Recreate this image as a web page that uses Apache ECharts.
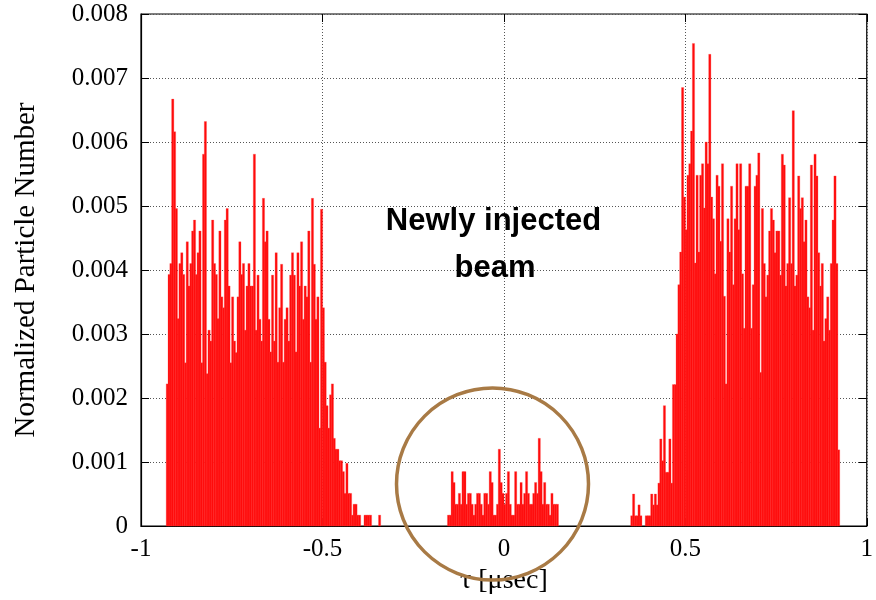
<!DOCTYPE html>
<html>
<head>
<meta charset="utf-8">
<script src="https://cdn.jsdelivr.net/npm/echarts@6/dist/echarts.min.js"></script>
<style>html,body{margin:0;padding:0;background:#fff}#c{width:876px;height:600px}</style>
</head>
<body>
<div id="c"></div>
<script>
// Histogram bin width (tau, usec) and value unit
var BIN = 0.005;
var UNIT = 0.001; // values below are in units of 1e-3

// Left bunch (starts at tau = -0.930)
var leftStart = -0.930;
var leftVals = [
 2.22,3.93,4.10,6.67,6.16,4.96,3.24,4.10,4.27,3.93,2.55,4.44,3.75,4.10,4.61,4.78,3.93,4.27,4.61,2.55,
 5.81,6.32,2.38,3.06,2.89,4.78,4.10,3.93,3.24,4.61,3.58,3.41,4.78,4.96,3.75,2.55,3.58,2.89,2.71,3.58,
 4.44,3.93,4.10,3.06,3.75,4.10,
 3.75,3.75,5.81,3.06,3.92,3.23,2.89,5.12,4.44,4.61,3.23,2.72,3.92,2.89,4.27,2.56,3.41,4.09,2.56,3.23,
 3.41,2.89,3.92,4.27,3.92,2.72,4.27,3.75,4.44,3.23,3.75,3.58,4.61,2.56,5.12,4.09,3.23,3.58,1.53,4.95,
 3.41,2.56,1.88,1.53,
 2.05,2.22,1.37,1.20,1.20,1.02,1.02,0.85,0.51,0.98,0.51,0.51,0.17,0.34,0.34,0.17,0.17,0,0,0.17,
 0.17,0.17,0.17,0,0,0,0,0.17
];

// Newly injected beam (starts at tau = -0.155)
var midStart = -0.155;
var midVals = [
 0.17,0.17,0.85,0.68,0.34,0.34,0.51,0.34,0.85,0.85,0.34,0.51,0.51,0.34,0.17,0.34,0.51,0.51,0.34,0.17,
 0.51,0.51,0.34,0.85,0.68,0.17,0.17,0.34,1.20,0.68,0.51,0.34,0.51,0.85,0.34,0.17,0.17,0.85,0.34,0.34,
 0.68,0.34,0.51,0.85,0.51,0.34,0.34,0.51,0.68,0.51,1.37,0.85,0.34,0.68,0.34,0.34,0.17,0.51,0.34,0.34,
 0.34
];

// Right bunch (starts at tau = 0.350)
var rightStart = 0.350;
var rightVals = [
 0.16,0.50,0.16,0.16,0.33,0.16,0,0,0.16,0.16,0.16,0.50,0.33,0.50,0.33,0.67,1.36,1.02,1.88,0.84,
 0.84,1.36,0.67,2.21,2.21,3.00,
 3.77,4.28,6.85,5.14,4.63,5.48,5.66,6.17,7.54,4.11,5.48,4.28,5.48,5.66,4.97,6.00,5.66,7.37,5.14,4.80,
 3.94,5.48,5.31,4.45,5.66,3.59,2.22,4.80,4.28,5.31,3.77,4.80,5.66,4.63,5.66,3.94,3.09,5.31,5.31,5.66,
 3.09,3.77,5.31,5.48,5.83,2.40,
 4.96,4.10,3.58,3.92,4.61,4.96,4.78,4.27,4.61,4.61,3.92,5.81,5.64,3.75,4.10,5.13,4.10,6.49,3.75,3.92,
 5.47,4.96,5.13,4.44,4.78,3.58,3.41,5.64,3.06,5.81,5.47,4.27,3.75,4.10,2.89,3.24,3.58,3.06,4.10,4.78,
 5.47,4.10,1.19
];

var xTicks = [-1, -0.5, 0, 0.5, 1];
var yTicks = [0, 0.001, 0.002, 0.003, 0.004, 0.005, 0.006, 0.007, 0.008];
var xTitle = 'τ [μsec]';
var yTitle = 'Normalized Particle Number';
var noteLines = ['Newly injected', 'beam'];

function bins(start, vals) {
  var out = [];
  for (var i = 0; i < vals.length; i++) {
    if (vals[i] > 0) {
      var x0 = +(start + i * BIN).toFixed(4);
      out.push([x0, +(x0 + BIN).toFixed(4), vals[i] * UNIT]);
    }
  }
  return out;
}
var data = bins(leftStart, leftVals).concat(bins(midStart, midVals), bins(rightStart, rightVals));

var serif = 'Liberation Serif, Times New Roman, serif';
var chart = echarts.init(document.getElementById('c'), null, {renderer: 'canvas'});

var gridLine = {show: true, lineStyle: {color: '#555', width: 1, type: [1, 2]}};
var tick = {show: true, inside: true, length: 8, lineStyle: {color: '#000', width: 1}};

chart.setOption({
  animation: false,
  backgroundColor: '#fff',
  grid: {left: 141, right: 7, top: 14, bottom: 74, show: true, borderColor: '#000', borderWidth: 1.2, backgroundColor: 'transparent'},
  xAxis: [{
    type: 'value', min: xTicks[0], max: xTicks[xTicks.length - 1], interval: 0.5,
    axisLine: {show: true, onZero: false, lineStyle: {color: '#000', width: 1.2}},
    axisTick: tick, splitLine: gridLine,
    axisLabel: {color: '#000', fontFamily: serif, fontSize: 25, margin: 11,
      formatter: function (v) { return String(v); }},
    name: xTitle, nameLocation: 'middle', nameGap: 38,
    nameTextStyle: {color: '#000', fontFamily: serif, fontSize: 28}
  }, {
    type: 'value', position: 'top', min: xTicks[0], max: xTicks[xTicks.length - 1], interval: 0.5,
    axisLine: {show: false, onZero: false}, axisTick: tick, splitLine: {show: false}, axisLabel: {show: false}
  }],
  yAxis: [{
    type: 'value', min: yTicks[0], max: yTicks[yTicks.length - 1], interval: 0.001,
    axisLine: {show: true, onZero: false, lineStyle: {color: '#000', width: 1.2}},
    axisTick: tick, splitLine: gridLine,
    axisLabel: {color: '#000', fontFamily: serif, fontSize: 25, margin: 13,
      formatter: function (v) { return v === 0 ? '0' : v.toFixed(3); }},
    name: yTitle, nameLocation: 'middle', nameGap: 100,
    nameTextStyle: {color: '#000', fontFamily: serif, fontSize: 29}
  }, {
    type: 'value', position: 'right', min: yTicks[0], max: yTicks[yTicks.length - 1], interval: 0.001,
    axisLine: {show: false, onZero: false}, axisTick: tick, splitLine: {show: false}, axisLabel: {show: false}
  }],
  series: [{
    type: 'custom',
    xAxisIndex: 0, yAxisIndex: 0,
    data: data,
    encode: {x: [0, 1], y: 2},
    renderItem: function (params, api) {
      var p0 = api.coord([api.value(0), api.value(2)]);
      var p1 = api.coord([api.value(1), 0]);
      return {
        type: 'rect',
        shape: {x: p0[0] - 0.2, y: p0[1], width: p1[0] - p0[0] + 0.4, height: p1[1] - p0[1]},
        style: {fill: '#ff0a0a', stroke: '#ff4848', lineWidth: 0.3}
      };
    }
  }],
  graphic: [
    {type: 'text', z: 100, style: {x: 493.5, y: 221, text: noteLines[0], textAlign: 'center', textVerticalAlign: 'middle',
      fontFamily: 'Liberation Sans, Arial, sans-serif', fontWeight: 'bold', fontSize: 31, fill: '#000'}},
    {type: 'text', z: 100, style: {x: 495, y: 268, text: noteLines[1], textAlign: 'center', textVerticalAlign: 'middle',
      fontFamily: 'Liberation Sans, Arial, sans-serif', fontWeight: 'bold', fontSize: 31, fill: '#000'}},
    {type: 'circle', z: 100, shape: {cx: 492.5, cy: 484, r: 96},
      style: {fill: 'none', stroke: '#A87A45', lineWidth: 3.5}}
  ]
});
</script>
</body>
</html>
